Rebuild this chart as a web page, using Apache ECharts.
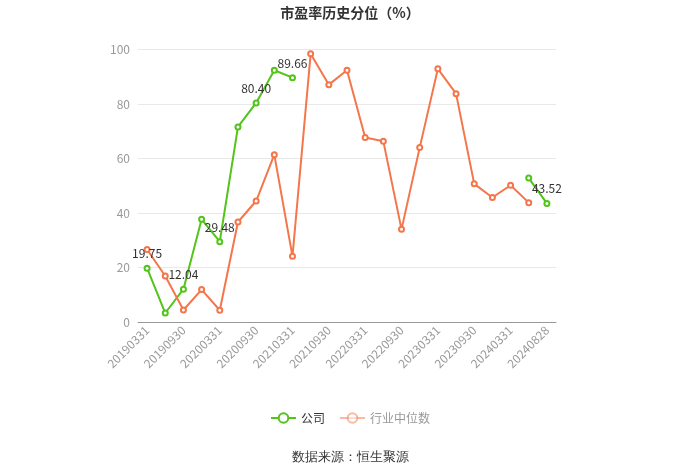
<!DOCTYPE html>
<html><head><meta charset="utf-8">
<script src="https://cdn.jsdelivr.net/npm/echarts@6/dist/echarts.min.js"></script>
<style>html,body{margin:0;padding:0;background:#fff}#c{width:700px;height:474px}</style>
</head><body><div id="c"></div>
<script>
var categories = ['20190331','20190630','20190930','20191231','20200331','20200630','20200930','20201231','20210331','20210630','20210930','20211231','20220331','20220630','20220930','20221231','20230331','20230630','20230930','20231231','20240331','20240630','20240828'];
var companyValues = [19.75, 3.3, 12.04, 37.7, 29.48, 71.6, 80.40, 92.4, 89.66, null, null, null, null, null, null, null, null, null, null, null, null, 52.8, 43.52];
var industryValues = [26.6, 16.9, 4.4, 11.9, 4.3, 36.7, 44.4, 61.4, 24.1, 98.4, 87.1, 92.4, 67.7, 66.3, 34.0, 64.0, 92.9, 83.8, 50.7, 45.7, 50.2, 43.8, null];
var labelIdx = [0, 2, 4, 6, 8, 22];
var yTicks = [0, 20, 40, 60, 80, 100];

var chart = echarts.init(document.getElementById('c'));
var font = '"Noto Sans CJK SC","Noto Sans",sans-serif';
chart.setOption({
  animation: false,
  textStyle: {fontFamily: font},
  title: {text: '市盈率历史分位（%）', left: 'center', top: 1,
    textStyle: {fontSize: 14, fontWeight: 'bold', color: '#333', fontFamily: font}},
  grid: {left: 138, right: 144, top: 49.5, bottom: 152},
  legend: {bottom: 45, left: 'center', itemWidth: 25, itemHeight: 12, itemGap: 14,
    textStyle: {fontSize: 12, color: '#333'},
    data: [{name: '公司'}, {name: '行业中位数', textStyle: {color: '#999'}, itemStyle: {opacity: 0.5}, lineStyle: {opacity: 0.5}}]},
  graphic: [{type: 'text', left: 'center', top: 451,
    style: {text: '数据来源：恒生聚源', fontSize: 13, fill: '#333', font: '13px ' + font}}],
  xAxis: {type: 'category', data: categories, boundaryGap: true,
    axisLine: {lineStyle: {color: '#999'}},
    axisTick: {alignWithLabel: true, interval: 1, lineStyle: {color: '#999'}},
    axisLabel: {interval: 1, rotate: 45, color: '#999', fontSize: 12, margin: 6}},
  yAxis: {type: 'value', min: 0, max: 100, interval: 20,
    axisLine: {show: false}, axisTick: {show: false},
    axisLabel: {color: '#999', fontSize: 12, margin: 8,
      formatter: function(v){ return yTicks.indexOf(v) >= 0 ? String(v) : ''; }},
    splitLine: {lineStyle: {color: '#e8e8e8'}}},
  series: [
    {name: '公司', type: 'line', data: companyValues.map(function(v, i){
        return labelIdx.indexOf(i) >= 0 ? {value: v, label: {show: true}} : v; }),
      connectNulls: false, symbol: 'emptyCircle', symbolSize: 5,
      itemStyle: {color: '#52C41A'}, lineStyle: {width: 2, color: '#52C41A'},
      label: {show: false, position: 'top', color: '#333', fontSize: 12,
        formatter: function(p){ return p.value.toFixed(2); }}},
    {name: '行业中位数', type: 'line', data: industryValues,
      symbol: 'emptyCircle', symbolSize: 5,
      itemStyle: {color: '#F4764A'}, lineStyle: {width: 2, color: '#F4764A'}}
  ]
});
</script></body></html>
